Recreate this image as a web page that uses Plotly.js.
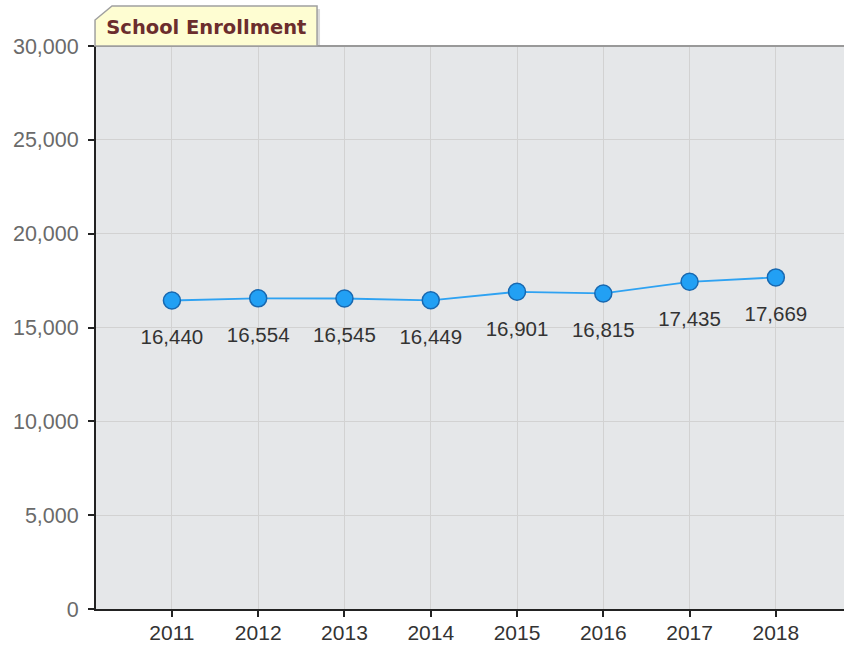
<!DOCTYPE html>
<html>
<head>
<meta charset="utf-8">
<script src="https://cdn.plot.ly/plotly-3.0.1.min.js"></script>
<style>html,body{margin:0;padding:0;background:#fff;}#chart{width:844px;height:648px;}</style>
</head>
<body>
<div id="chart"></div>
<script>
var years = ['2011','2012','2013','2014','2015','2016','2017','2018'];
var enrollment = [16440, 16554, 16545, 16449, 16901, 16815, 17435, 17669];
var yTicks = [0, 5000, 10000, 15000, 20000, 25000, 30000];
var chartTitle = 'School Enrollment';

function fmt(v){
  return String(v).replace(/\B(?=(\d{3})+(?!\d))/g, ',');
}
var labels = enrollment.map(fmt);

var lineTrace = {
  x: years,
  y: enrollment,
  type: 'scatter',
  mode: 'lines+markers',
  line: {color: '#2ea2f2', width: 1.8},
  marker: {size: 17, color: '#22a0f4', line: {color: '#1868b0', width: 1.5}},
  hoverinfo: 'x+y'
};

var labelTrace = {
  x: years,
  y: enrollment,
  type: 'scatter',
  mode: 'markers+text',
  text: labels,
  textposition: 'bottom center',
  textfont: {family: 'Liberation Sans, Arial, sans-serif', size: 20.5, color: '#333'},
  marker: {size: 44, opacity: 0, color: '#000'},
  hoverinfo: 'skip'
};

var layout = {
  width: 844, height: 648,
  margin: {l: 96, r: 0, t: 46, b: 39},
  paper_bgcolor: '#ffffff',
  plot_bgcolor: '#e5e7e9',
  showlegend: false,
  title: {
    text: '<b>' + chartTitle + '</b>',
    font: {family: 'DejaVu Sans, Verdana, sans-serif', size: 19.5, color: '#6b2d2d'},
    x: 0.2445, xanchor: 'center', y: 0.958, yanchor: 'middle'
  },
  xaxis: {
    type: 'category',
    range: [-0.88, 7.79],
    showgrid: true, gridcolor: '#d2d2d2', gridwidth: 1,
    showline: true, linecolor: '#222', linewidth: 2,
    ticks: 'outside', ticklen: 6, tickwidth: 2, tickcolor: '#222',
    ticklabelstandoff: -2,
    tickfont: {family: 'Liberation Sans, Arial, sans-serif', size: 21, color: '#333'},
    zeroline: false, fixedrange: true
  },
  yaxis: {
    range: [0, 30000],
    tickvals: yTicks,
    tickformat: ',',
    showgrid: true, gridcolor: '#d2d2d2', gridwidth: 1,
    showline: true, linecolor: '#222', linewidth: 2,
    ticks: 'outside', ticklen: 6, tickwidth: 2, tickcolor: '#222',
    ticklabelstandoff: 5,
    tickfont: {family: 'Liberation Sans, Arial, sans-serif', size: 21.5, color: '#6a6a6a'},
    zeroline: false, fixedrange: true
  },
  shapes: [
    {type: 'line', xref: 'paper', yref: 'paper', x0: 0, x1: 1, y0: 1, y1: 1,
     line: {color: '#999', width: 2}},
    {type: 'path', xref: 'paper', yref: 'paper',
     path: 'M 0.0027,1.0 L 0.0027,1.0409 L 0.0254,1.0657 L 0.2995,1.0657 L 0.2995,1.0 Z',
     fillcolor: 'rgba(150,150,150,0.35)', line: {width: 0}},
    {type: 'path', xref: 'paper', yref: 'paper',
     path: 'M -0.0013,1.0 L -0.0013,1.0462 L 0.0214,1.071 L 0.2955,1.071 L 0.2955,1.0 Z',
     fillcolor: '#fefdd2', line: {color: '#a0a0a0', width: 1.5}}
  ]
};

Plotly.newPlot('chart', [lineTrace, labelTrace], layout, {displayModeBar: false, staticPlot: true});
</script>
</body>
</html>
